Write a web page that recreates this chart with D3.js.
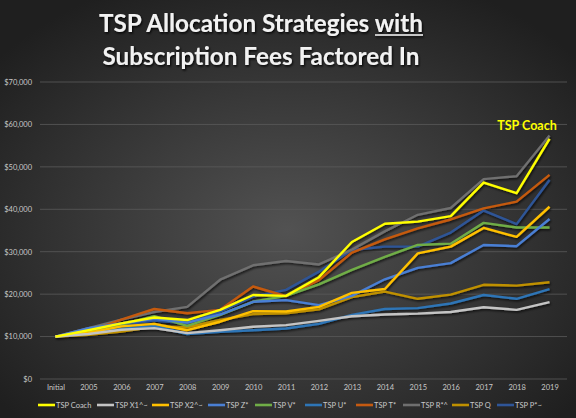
<!DOCTYPE html>
<html><head><meta charset="utf-8">
<script src="https://cdn.jsdelivr.net/npm/d3@7"></script>
<style>html,body{margin:0;padding:0;background:#222;overflow:hidden}svg{display:block}</style>
</head><body>
<script>
const categories = ["Initial","2005","2006","2007","2008","2009","2010","2011","2012","2013","2014","2015","2016","2017","2018","2019"];
const seriesNames = ["TSP Coach","TSP X1^~","TSP X2^~","TSP Z*","TSP V*","TSP U*","TSP T*","TSP R*^","TSP Q","TSP P*~"];
const seriesColors = ["#ffff00","#c4c4c4","#ffc000","#4a7fd4","#70ad47","#2e75b6","#c55a11","#6f6f6f","#bf9000","#2f5597"];
const coach = [10000,11500,13100,14500,13900,16300,19800,19600,24000,32300,36600,37100,38400,46300,43800,56600];
const x1    = [10000,10600,11600,12000,10800,11500,12300,12700,13700,14800,15200,15400,15800,16900,16300,18100];
const x2    = [10000,10900,12400,13000,11500,13500,16000,15900,17000,20300,21200,29600,31200,35600,33500,40600];
const z     = [10000,12000,13100,14200,13300,15200,18200,18600,17400,19600,23500,26200,27300,31600,31300,37700];
const v     = [10000,11300,12800,14800,12500,15100,18200,19600,22300,25700,28800,31600,31900,36800,35700,35700];
const u     = [10000,10700,11800,12500,10600,11100,11500,11900,13000,15100,16500,16700,17800,19800,18900,21200];
const t     = [10000,11200,14000,16500,15500,16300,21800,19500,23300,29800,32900,35500,37600,40200,41800,48100];
const r     = [10000,12000,14000,15800,17000,23400,26800,27800,27000,30500,34800,38700,40300,47100,47800,57400];
const q     = [10000,10400,11200,12300,12200,13900,15300,15500,16400,19300,20600,18900,19900,22200,22000,22800];
const p     = [10000,11800,12800,13800,13100,15900,19400,21000,25300,30400,31200,31200,34500,39700,36500,46900];
const seriesValues = [coach,x1,x2,z,v,u,t,r,q,p];
const yTicks = [0,10000,20000,30000,40000,50000,60000,70000];

const W = 576, H = 418;
const svg = d3.select("body").append("svg").attr("width", W).attr("height", H);
const defs = svg.append("defs");
const rg = defs.append("radialGradient").attr("id","bg").attr("cx","50%").attr("cy","55%").attr("r","65%");
rg.append("stop").attr("offset","0%").attr("stop-color","#525252");
rg.append("stop").attr("offset","100%").attr("stop-color","#1f1f1f");
const f = defs.append("filter").attr("id","sh").attr("x","-10%").attr("y","-10%").attr("width","120%").attr("height","130%");
f.append("feDropShadow").attr("dx",1).attr("dy",1.5).attr("stdDeviation",0.9).attr("flood-color","#000").attr("flood-opacity",0.75);
const ft = defs.append("filter").attr("id","tsh").attr("x","-10%").attr("y","-20%").attr("width","120%").attr("height","150%");
ft.append("feDropShadow").attr("dx",1).attr("dy",1.5).attr("stdDeviation",1).attr("flood-color","#000").attr("flood-opacity",0.9);

svg.append("rect").attr("width",W).attr("height",H).attr("fill","url(#bg)");

const x = d3.scalePoint().domain(categories).range([39,566]).padding(0.5);
const y = d3.scaleLinear().domain([0,70000]).range([379,82]);

// gridlines
svg.append("g").selectAll("line").data(yTicks).join("line")
  .attr("x1",40).attr("x2",567).attr("y1",d=>y(d)).attr("y2",d=>y(d))
  .attr("stroke","#5a5a5a").attr("stroke-width",0.8);

// y axis
const yAxis = d3.axisLeft(y).tickValues(yTicks).tickSize(0).tickPadding(0)
  .tickFormat(d=>"$"+d3.format(",")(d));
const gy = svg.append("g").attr("transform","translate(32,0)").call(yAxis);
gy.select(".domain").remove();
gy.selectAll("text").attr("fill","#c8c8c8").attr("font-family","Lato, 'Open Sans', sans-serif").attr("font-size",7.5);

// x axis
const xAxis = d3.axisBottom(x).tickSize(0).tickPadding(0);
const gx = svg.append("g").attr("transform","translate(0,385)").call(xAxis);
gx.select(".domain").remove();
gx.selectAll("text").attr("fill","#c8c8c8").attr("font-family","Lato, 'Open Sans', sans-serif").attr("font-size",7.5);

// lines
const line = d3.line().x((d,i)=>x(categories[i])).y(d=>y(d));
const order = [9,8,7,6,5,4,3,2,1,0];
svg.append("g").attr("filter","url(#sh)").selectAll("path").data(order).join("path")
  .attr("d",i=>line(seriesValues[i]))
  .attr("fill","none").attr("stroke",i=>seriesColors[i]).attr("stroke-width",2.4)
  .attr("stroke-linejoin","round");

// annotation
svg.append("text").attr("x",527).attr("y",130).attr("text-anchor","middle")
  .attr("fill","#ffff00").attr("font-family","Lato, sans-serif").attr("font-weight",700)
  .attr("font-size",12.5).text("TSP Coach");

// title
const title = svg.append("g").attr("filter","url(#tsh)").attr("fill","#f2f2f2")
  .attr("font-family","Lato, sans-serif").attr("font-weight",700).attr("font-size",24);
const t1 = title.append("text").attr("x",261).attr("y",32).attr("text-anchor","middle")
  .attr("textLength",324).attr("lengthAdjust","spacingAndGlyphs");
t1.append("tspan").text("TSP Allocation Strategies ");
t1.append("tspan").text("with");
title.append("line").attr("x1",375).attr("x2",423).attr("y1",35).attr("y2",35).attr("stroke","#f2f2f2").attr("stroke-width",1.6);
title.append("text").attr("x",261).attr("y",65).attr("text-anchor","middle")
  .attr("textLength",317).attr("lengthAdjust","spacingAndGlyphs").text("Subscription Fees Factored In");

// legend
const legX = [38,97,152,208,255,305,356,403,452,497];
const leg = svg.append("g").attr("font-family","Lato, 'Open Sans', sans-serif").attr("font-size",7.5).attr("fill","#c8c8c8");
const li = leg.selectAll("g").data(seriesNames).join("g").attr("transform",(d,i)=>`translate(${legX[i]},405)`);
li.append("line").attr("x1",0).attr("x2",17).attr("y1",0).attr("y2",0)
  .attr("stroke",(d,i)=>seriesColors[i]).attr("stroke-width",2.6);
li.append("text").attr("x",18).attr("y",2.7).text(d=>d);
</script>
</body></html>
